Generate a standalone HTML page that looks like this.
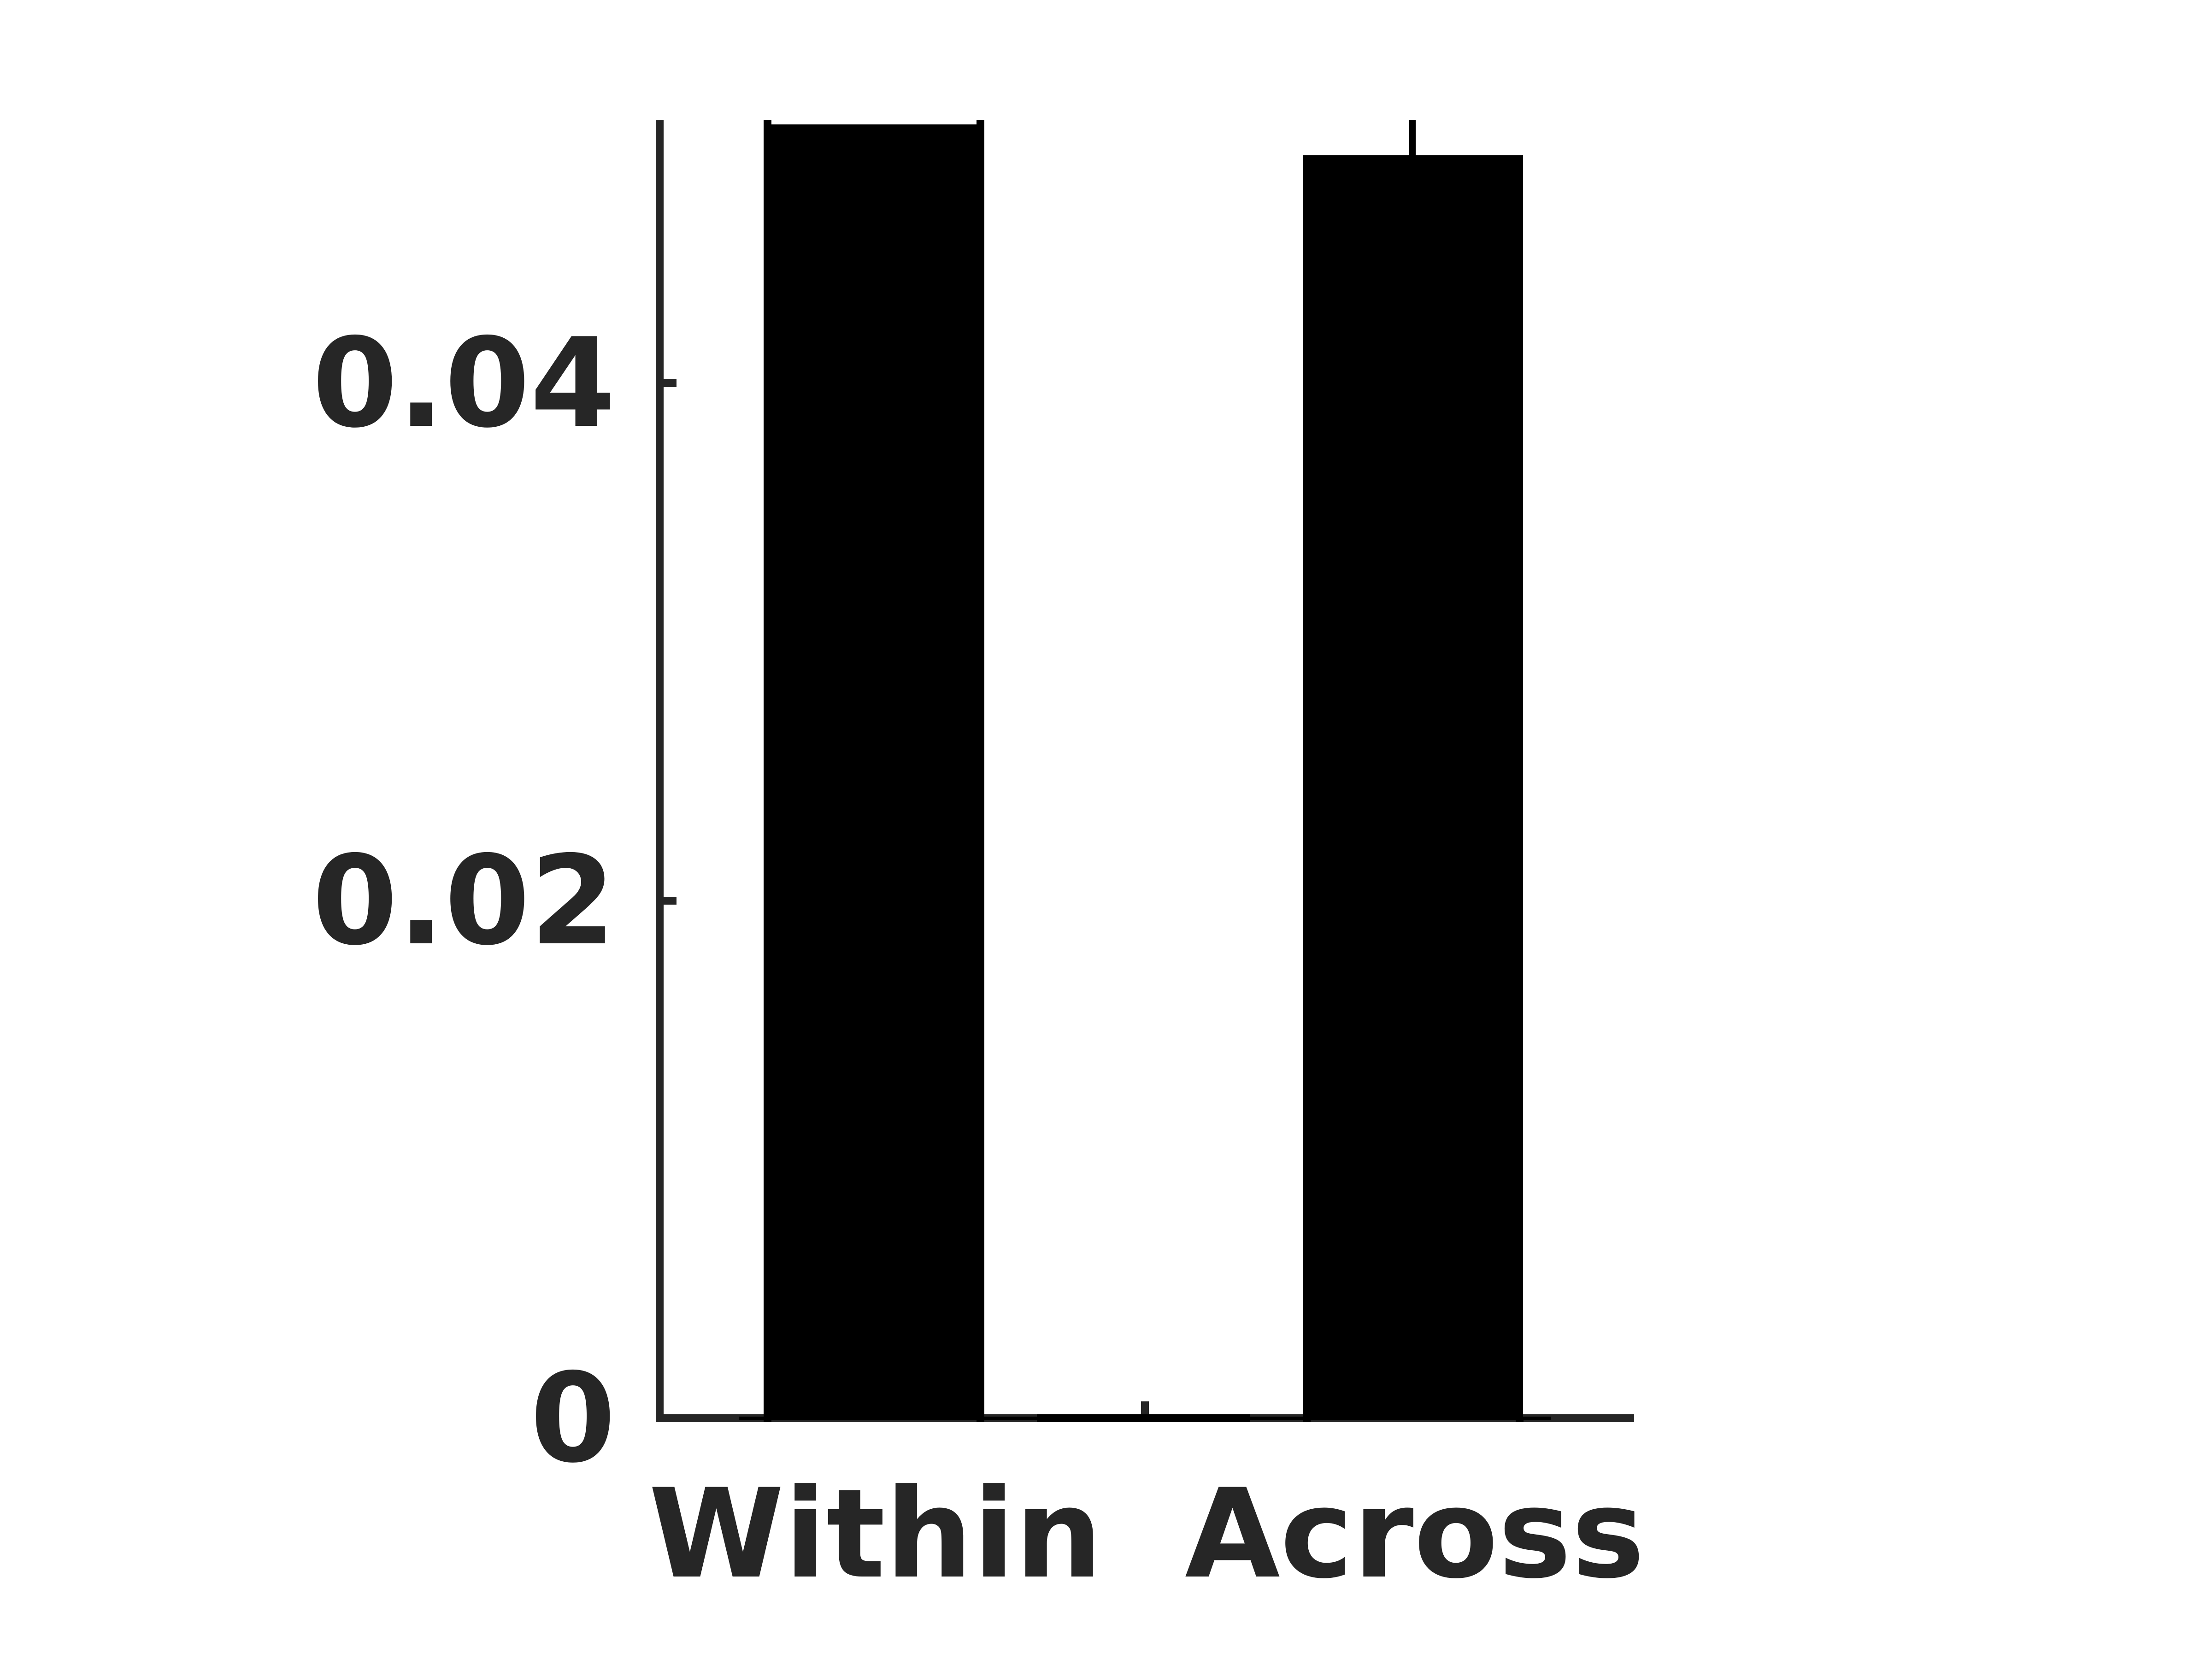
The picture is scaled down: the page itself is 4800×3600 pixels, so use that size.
<!DOCTYPE html>
<html lang="en">
<head>
<meta charset="utf-8">
<title>Within vs Across bar chart</title>
<style>
html,body{margin:0;padding:0;background:#fff;width:4800px;height:3600px;overflow:hidden}
svg{display:block}
text{font-family:"DejaVu Sans","Liberation Sans",sans-serif;font-weight:700;font-size:267px;fill:#262626}
</style>
</head>
<body>
<svg id="chart" xmlns="http://www.w3.org/2000/svg" width="4800" height="3600" viewBox="0 0 4800 3600" shape-rendering="crispEdges"></svg>
<script>
const categories = ["Within", "", "Across"];
const barValues = [0.04994, 0, 0.04874];
const errorUpper = [0.0515, null, 0.0515];
const yTickValues = [0, 0.02, 0.04];
const yTickLabels = ["0", "0.02", "0.04"];

const NS = "http://www.w3.org/2000/svg";
const svg = document.getElementById("chart");
const AXIS = "#262626";
const INK = "#000000";
const yMax = 0.05016;

function yScale(v) { return 3077.5 - v * 56150; }
function xScale(i) { return 1896 + 585 * i; }

function rect(x0, y0, x1, y1, fill) {
  const r = document.createElementNS(NS, "rect");
  r.setAttribute("x", x0);
  r.setAttribute("y", y0);
  r.setAttribute("width", x1 - x0);
  r.setAttribute("height", y1 - y0);
  r.setAttribute("fill", fill);
  svg.appendChild(r);
  return r;
}
function label(x, y, anchor, str) {
  const t = document.createElementNS(NS, "text");
  t.setAttribute("x", x);
  t.setAttribute("y", y);
  t.setAttribute("text-anchor", anchor);
  t.textContent = str;
  svg.appendChild(t);
  return t;
}

const spineLeft = rect(1423, yScale(yMax), 1440, yScale(0) + 8.5, AXIS);


const spineBottom = rect(1423, yScale(0) - 8.5, 3546, yScale(0) + 8.5, AXIS);



yTickValues.forEach(function (v, i) {
  const y = yScale(v);
  const tick = rect(1440, y - 8.5, 1468, y + 8.5, AXIS);
  
  
  const tl = label(1336, y + 92.5, "end", yTickLabels[i]);
  
  
});

categories.forEach(function (c, i) {
  const cx = xScale(i) + 3.5;
  const tick = rect(cx - 8.5, yScale(0) - 36.5, cx + 8.5, yScale(0) - 8.5, AXIS);
  
  
});

const baseline = rect(1604, yScale(0) - 3.5, 3365, yScale(0) + 3.5, INK);



barValues.forEach(function (v, i) {
  const cx = xScale(i);
  if (v === 0) {
    const flat = rect(cx - 231, yScale(0) - 8.5, cx + 231, yScale(0) + 8.5, INK);
    
    
    return;
  }
  const bar = rect(cx - 239, yScale(v) - 3.5, cx + 239, yScale(0) + 3.5, INK);
  
  
});

errorUpper.forEach(function (u, i) {
  if (u === null) return;
  const cx = xScale(i);
  const top = yScale(Math.min(u, yMax));
  if (i === 0) {
    const a = rect(cx - 239, top, cx - 222, yScale(0) + 8.5, INK);
    
    
    const b = rect(cx + 223, top, cx + 240, yScale(0) + 8.5, INK);
    
    
  } else {
    const c1 = rect(cx - 239, yScale(0), cx - 222, yScale(0) + 8.5, INK);
    
    
    const c2 = rect(cx + 223, yScale(0), cx + 240, yScale(0) + 8.5, INK);
    
    
    const c3 = rect(cx - 8, top, cx + 6, yScale(barValues[i]), INK);
    
    
  }
});

categories.forEach(function (c, i) {
  if (!c) return;
  const xl = label(xScale(i) + 4, 3421, "middle", c);
  
  
});
</script>
</body>
</html>
